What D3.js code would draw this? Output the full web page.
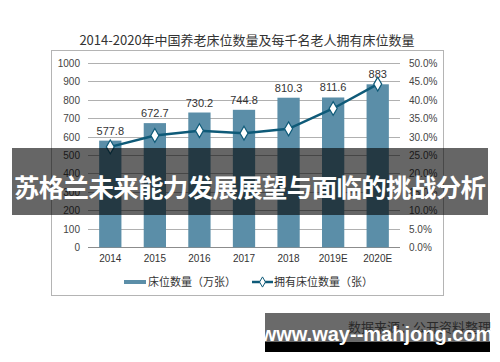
<!DOCTYPE html>
<html lang="zh">
<head>
    <meta charset="utf-8">
    <script src="https://d3js.org/d3.v7.min.js"></script>
    <style>
        body { margin: 0; background: #fff; }
        text { font-family: "Liberation Sans", Arial, sans-serif; }
        .cjk { font-family: "Noto Sans CJK SC", sans-serif; }
    </style>
</head>
<body>
<script>
    const years = ['2014', '2015', '2016', '2017', '2018', '2019E', '2020E'];
    const beds = [577.8, 672.7, 730.2, 744.8, 810.3, 811.6, 883];
    const perThousand = [27.2, 30.3, 31.6, 30.9, 32.1, 37.6, 44.2];
    const leftTicks = [0, 100, 200, 300, 400, 500, 600, 700, 800, 900, 1000];
    const rightTicks = [0, 5, 10, 15, 20, 25, 30, 35, 40, 45, 50];

    const svg = d3.select('body').append('svg')
        .attr('width', 500).attr('height', 362);

    // frame
    svg.append('rect').attr('x', 51.5).attr('y', 50.5).attr('width', 392).attr('height', 245)
        .attr('fill', '#fff').attr('stroke', '#b4b4b4');

    svg.append('text').attr('class', 'cjk')
        .attr('x', 247).attr('y', 45).attr('text-anchor', 'middle')
        .attr('font-size', 13).attr('fill', '#333')
        .text('2014-2020年中国养老床位数量及每千名老人拥有床位数量');

    const x = d3.scaleBand().domain(years).range([88, 400]).paddingInner(0.5).paddingOuter(0.25);
    const yL = d3.scaleLinear().domain([0, 1000]).range([247.3, 62.7]);
    const yR = d3.scaleLinear().domain([0, 50]).range([247.3, 62.7]);

    // gridlines
    svg.append('g').selectAll('line').data(leftTicks).enter().append('line')
        .attr('x1', 88).attr('x2', 400)
        .attr('y1', d => Math.round(yL(d)) + 0.5).attr('y2', d => Math.round(yL(d)) + 0.5)
        .attr('stroke', d => d === 0 ? '#8c8c8c' : '#b0b0b0');

    svg.append('g').selectAll('text').data(leftTicks).enter().append('text')
        .attr('x', 80).attr('y', d => yL(d) + 4).attr('text-anchor', 'end')
        .attr('font-size', 10).attr('fill', '#444').text(d => d);

    svg.append('g').selectAll('text').data(rightTicks).enter().append('text')
        .attr('x', 409).attr('y', d => yR(d) + 4)
        .attr('font-size', 10).attr('fill', '#444').text(d => d.toFixed(1) + '%');

    // bars
    svg.append('g').selectAll('rect').data(beds).enter().append('rect')
        .attr('x', (d, i) => x(years[i]))
        .attr('y', d => yL(d))
        .attr('width', x.bandwidth())
        .attr('height', d => yL(0) - yL(d))
        .attr('fill', '#5b8ea8');

    svg.append('g').selectAll('text').data(beds).enter().append('text')
        .attr('x', (d, i) => x(years[i]) + x.bandwidth() / 2)
        .attr('y', d => yL(d) - 6)
        .attr('text-anchor', 'middle').attr('font-size', 11).attr('fill', '#333')
        .text(d => d);

    // line
    const line = d3.line()
        .x((d, i) => x(years[i]) + x.bandwidth() / 2)
        .y(d => yR(d));
    svg.append('path').datum(perThousand).attr('d', line)
        .attr('fill', 'none').attr('stroke', '#0e5a78').attr('stroke-width', 2.5);

    svg.append('g').selectAll('path').data(perThousand).enter().append('path')
        .attr('d', d3.symbol().type(d3.symbolDiamond).size(55))
        .attr('transform', (d, i) => 'translate(' + (x(years[i]) + x.bandwidth() / 2) + ',' + yR(d) + ')')
        .attr('fill', '#fff').attr('stroke', '#0e5a78').attr('stroke-width', 1.2);

    // x labels
    svg.append('g').selectAll('text').data(years).enter().append('text')
        .attr('x', d => x(d) + x.bandwidth() / 2).attr('y', 262)
        .attr('text-anchor', 'middle').attr('font-size', 10).attr('fill', '#333')
        .text(d => d);

    // legend
    svg.append('rect').attr('x', 124).attr('y', 280).attr('width', 22).attr('height', 4).attr('fill', '#5b8ea8');
    svg.append('text').attr('class', 'cjk').attr('x', 148).attr('y', 286)
        .attr('font-size', 11).attr('fill', '#333').text('床位数量（万张）');
    svg.append('line').attr('x1', 252).attr('x2', 273).attr('y1', 282).attr('y2', 282)
        .attr('stroke', '#0e5a78').attr('stroke-width', 2.5);
    svg.append('path').attr('d', d3.symbol().type(d3.symbolDiamond).size(30))
        .attr('transform', 'translate(262.5,282)')
        .attr('fill', '#fff').attr('stroke', '#0e5a78');
    svg.append('text').attr('class', 'cjk').attr('x', 274).attr('y', 286)
        .attr('font-size', 11).attr('fill', '#333').text('拥有床位数量（张）');

    // banner overlay
    svg.append('rect').attr('x', 12).attr('y', 148).attr('width', 476).attr('height', 67)
        .attr('fill', '#000').attr('fill-opacity', 0.6);
    svg.append('text').attr('class', 'cjk')
        .attr('x', 250).attr('y', 197).attr('text-anchor', 'middle')
        .attr('font-size', 25.5).attr('font-weight', 'bold').attr('fill', '#fff')
        .attr('textLength', 472).attr('lengthAdjust', 'spacing')
        .text('苏格兰未来能力发展展望与面临的挑战分析');

    // bottom watermark
    svg.append('rect').attr('x', 265).attr('y', 313).attr('width', 225).attr('height', 29)
        .attr('fill', '#6a6a6a');
    svg.append('rect').attr('x', 265).attr('y', 342).attr('width', 225).attr('height', 10)
        .attr('fill', '#000');
    svg.append('text').attr('class', 'cjk').attr('x', 348).attr('y', 332)
        .attr('font-size', 13).attr('fill', '#2a2a2a').text('数据来源：公开资料整理');
    svg.append('text').attr('x', 377).attr('y', 341).attr('text-anchor', 'middle')
        .attr('font-size', 20).attr('font-weight', 'bold').attr('fill', '#fff')
        .text('www.way--mahjong.com');
</script>
</body>
</html>
